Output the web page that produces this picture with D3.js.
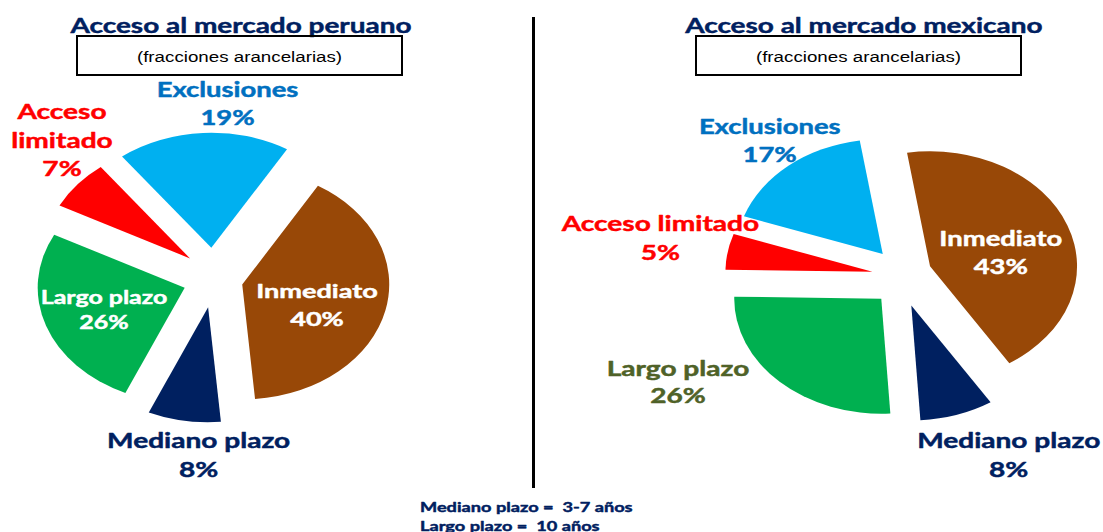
<!DOCTYPE html>
<html>
<head>
<meta charset="utf-8">
<script src="https://cdn.jsdelivr.net/npm/d3@7"></script>
<style>
  html, body { margin: 0; padding: 0; background: #ffffff; }
  svg { display: block; }
  text { white-space: pre; }
</style>
</head>
<body>
<svg id="chart" width="1103" height="532"></svg>
<script>
// ---------------- DATA ----------------
const categories = ["Inmediato", "Mediano plazo", "Largo plazo", "Acceso limitado", "Exclusiones"];
const peruValues = [40, 8, 26, 7, 19];
const mexicoValues = [43, 8, 26, 5, 17];
const sliceColors = ["#984807", "#002060", "#00B050", "#FF0000", "#00B0F0"];
const titles = ["Acceso al mercado peruano", "Acceso al mercado mexicano"];
const subtitle = "(fracciones arancelarias)";
const footnotes = ["Mediano plazo =  3-7 años", "Largo plazo =  10 años"];

// label lines per chart (category label split, followed by percentage)
const peruLabelLines = [["Inmediato"], ["Mediano plazo"], ["Largo plazo"], ["Acceso", "limitado"], ["Exclusiones"]];
const mexicoLabelLines = [["Inmediato"], ["Mediano plazo"], ["Largo plazo"], ["Acceso limitado"], ["Exclusiones"]];

// ---------------- LAYOUT ----------------
const svg = d3.select("#chart");
const TEXT_SX = 1.37;        // horizontal stretch of the label text (reference is stretched)
const FONT = "Lato, 'Open Sans', sans-serif";
const R = 115;               // vertical radius
const PIE_SX = 147 / 115;    // horizontal stretch of pies
const EXPLODE = 30;

const charts = [
  {
    values: peruValues, lines: peruLabelLines,
    cx: 213, cy: 277.7, start: 31,
    titleX: 241, box: [77, 36, 402, 75], subX: 239.5,
    labels: [
      {x: 317, y: 298.3, color: "#FFFFFF", size: 19.8, lh: 27.7},
      {x: 198.6, y: 448.3, color: "#002060", size: 20.5, lh: 28.4},
      {x: 104, y: 304, color: "#FFFFFF", size: 18.2, lh: 24.7},
      {x: 62, y: 119.3, color: "#FF0000", size: 20.5, lh: 28.2},
      {x: 227.5, y: 96.7, color: "#0070C0", size: 20, lh: 28.3}
    ]
  },
  {
    values: mexicoValues, lines: mexicoLabelLines,
    cx: 902, cy: 277, start: -9,
    titleX: 863.8, box: [696, 36, 1021, 75], subX: 858.5,
    labels: [
      {x: 1000.8, y: 245.7, color: "#FFFFFF", size: 20, lh: 28.6},
      {x: 1008.7, y: 448.3, color: "#002060", size: 20.5, lh: 28.4},
      {x: 678, y: 375.7, color: "#4F6228", size: 20.5, lh: 27.6},
      {x: 660.4, y: 230.7, color: "#FF0000", size: 20.5, lh: 29.3},
      {x: 769.7, y: 134, color: "#0070C0", size: 20, lh: 28.3}
    ]
  }
];

function addText(sel, x, y, str, o) {
  const sx = o.sx || TEXT_SX;
  const t = sel.append("text")
    .attr("transform", `translate(${x},${y}) scale(${sx},1)`)
    .attr("text-anchor", o.anchor || "middle")
    .attr("font-family", o.family || FONT)
    .attr("font-weight", o.weight || 700)
    .attr("font-size", o.size)
    .attr("fill", o.color)
    .text(str);
  if (o.stroke !== false && (o.weight || 700) >= 700) {
    t.attr("stroke", o.color).attr("stroke-width", 0.45).attr("stroke-linejoin", "round");
  }
  return t;
}

const arc = d3.arc().innerRadius(0).outerRadius(R);
const rad = Math.PI / 180;

charts.forEach((c, ci) => {
  const g = svg.append("g");
  const total = d3.sum(c.values);
  const pie = d3.pie().sort(null)
    .startAngle(c.start * rad)
    .endAngle(c.start * rad + 2 * Math.PI);
  const arcs = pie(c.values);

  g.selectAll("path.slice")
    .data(arcs)
    .enter()
    .append("path")
    .attr("class", "slice")
    .attr("fill", (d, i) => sliceColors[i])
    .attr("d", arc)
    .attr("transform", d => {
      const m = (d.startAngle + d.endAngle) / 2;
      const tx = c.cx + EXPLODE * Math.sin(m);
      const ty = c.cy - EXPLODE * Math.cos(m);
      return `translate(${tx},${ty}) scale(${PIE_SX},1)`;
    });

  // labels
  arcs.forEach((d, i) => {
    const L = c.labels[i];
    const lines = c.lines[i].concat([Math.round(d.value / total * 100) + "%"]);
    lines.forEach((ln, k) => {
      addText(g, L.x, L.y + k * L.lh, ln, {size: L.size, color: L.color});
    });
  });

  // title
  addText(g, c.titleX, 32.5, titles[ci], {size: 21.5, color: "#002060", sx: 1.3});
  // subtitle box
  const b = c.box;
  g.append("rect")
    .attr("x", b[0]).attr("y", b[1])
    .attr("width", b[2] - b[0]).attr("height", b[3] - b[1])
    .attr("fill", "none").attr("stroke", "#000").attr("stroke-width", 2);
  addText(g, c.subX, 62, subtitle, {size: 15, color: "#000", weight: 400,
    family: "'Liberation Sans', Arial, sans-serif", sx: 1.25});
});

// divider
svg.append("line")
  .attr("x1", 533.5).attr("x2", 533.5)
  .attr("y1", 17).attr("y2", 488)
  .attr("stroke", "#000").attr("stroke-width", 3);

// footnotes
footnotes.forEach((f, k) => {
  addText(svg, 420, 511.7 + k * 19, f, {size: 14, color: "#002060", anchor: "start", sx: 1.3});
});
</script>
</body>
</html>
